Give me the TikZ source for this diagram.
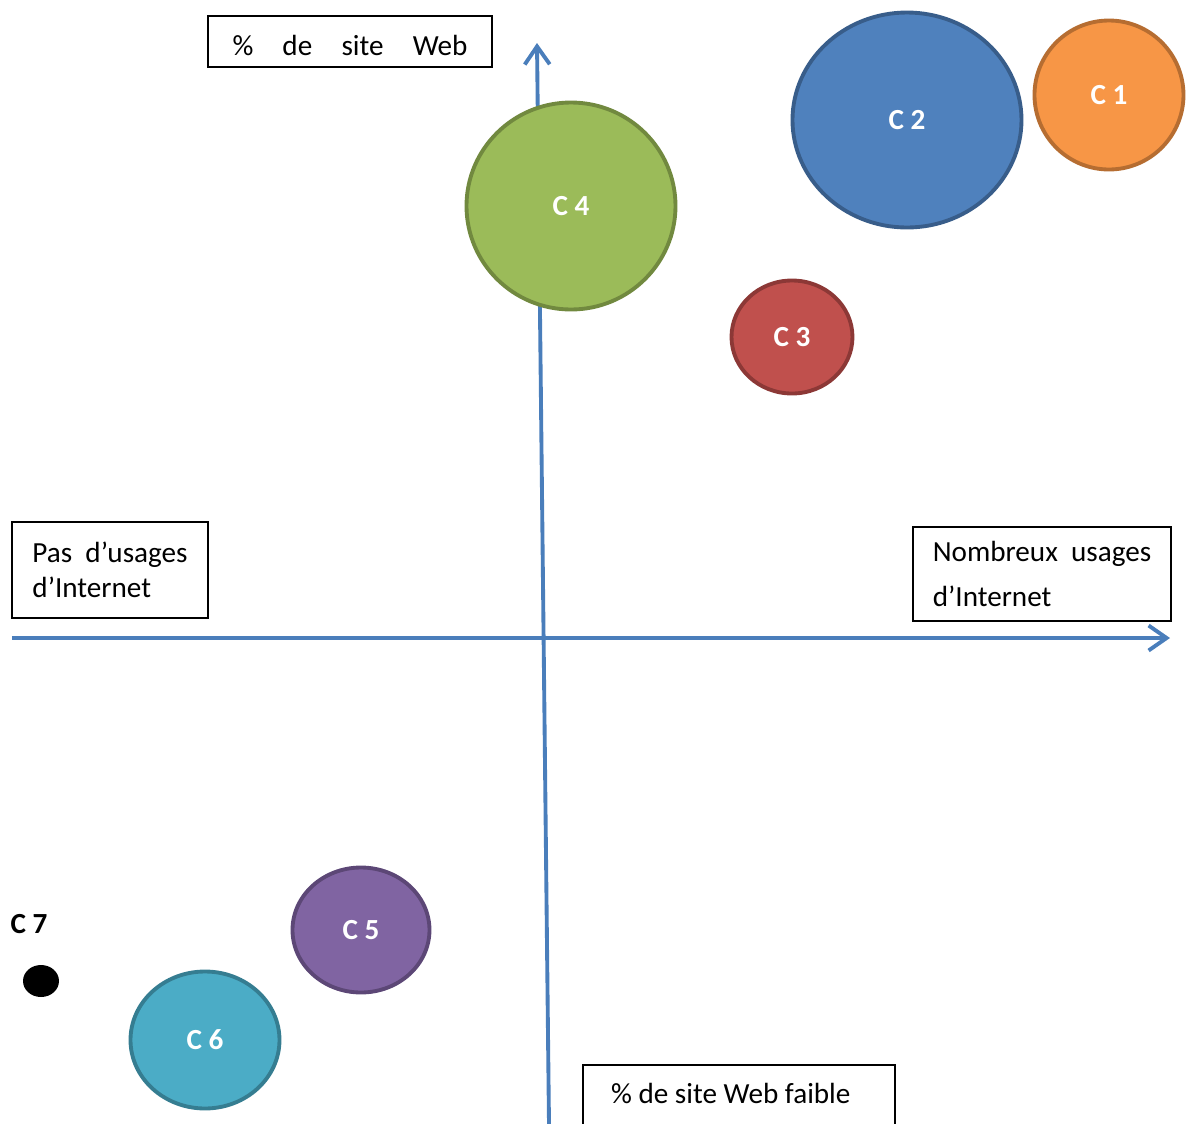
\documentclass[tikz,border=0pt]{standalone}
\usepackage{fontspec}
\setmainfont{Carlito}
\usetikzlibrary{arrows.meta, shapes.geometric}

\definecolor{axisblue}{RGB}{74,126,187}
\definecolor{orangefill}{RGB}{247,150,70}
\definecolor{orangeline}{RGB}{182,109,49}
\definecolor{bluefill}{RGB}{79,129,189}
\definecolor{blueline}{RGB}{56,93,138}
\definecolor{redfill}{RGB}{192,80,77}
\definecolor{redline}{RGB}{140,56,54}
\definecolor{greenfill}{RGB}{155,187,89}
\definecolor{greenline}{RGB}{113,137,63}
\definecolor{purplefill}{RGB}{128,100,162}
\definecolor{purpleline}{RGB}{92,71,118}
\definecolor{aquafill}{RGB}{75,172,198}
\definecolor{aqualine}{RGB}{53,125,145}

\newcommand{\boxfont}{\fontsize{8.3}{10}\selectfont}

\begin{document}
\begin{tikzpicture}[x=0.1mm, y=-0.1mm,
  axis/.style={axisblue, line width=1.1pt, -{Straight Barb[length=1.8mm, width=2.5mm]}},
  labelbox/.style={draw=black, line width=0.6pt, font=\boxfont},
  cluster/.style={ellipse, inner sep=0pt, line width=1.1pt, text=white, font=\bfseries\boxfont}]
\clip (0,0) rectangle (1187,1124);

\coordinate (xleft) at (12,638);
\coordinate (xright) at (1170,638);
\coordinate (ybottom) at (549,1124);
\coordinate (ytop) at (537,43);

\draw[axis] (xleft) -- (xright);
\draw[axis] (ybottom) -- (ytop);

\node[labelbox, minimum width=28.4mm, inner ysep=0pt, text height=3.9mm, text depth=1.2mm] (webbox) at (350,41.5)
  {\makebox[23.5mm]{\%\hfill de\hfill site\hfill Web}};
\node[labelbox, align=left, minimum width=19.6mm, minimum height=9.6mm] (nouse) at (110,570)
  {Pas\ \ d’usages\\ d’Internet};
\node[labelbox, align=left, minimum width=25.8mm, minimum height=9.4mm] (manyuse) at (1042,574)
  {Nombreux\ \ usages\\[2.6pt] d’Internet};
\node[labelbox, anchor=north west, inner xsep=2.8mm, inner ysep=0pt, text height=3.8mm, text depth=4mm] (lowweb) at (582,1064)
  {\makebox[25.6mm][l]{\% de site Web faible}};

\node[cluster, fill=orangefill, draw=orangeline, minimum width=14.9mm, minimum height=14.9mm] (c1) at (1109,95) {C 1};
\node[cluster, fill=bluefill, draw=blueline, minimum width=22.9mm, minimum height=21.5mm] (c2) at (907,120) {C 2};
\node[cluster, fill=redfill, draw=redline, minimum width=12.1mm, minimum height=11.3mm] (c3) at (792,337) {C 3};
\node[cluster, fill=greenfill, draw=greenline, minimum width=20.9mm, minimum height=20.7mm] (c4) at (571,206) {C 4};
\node[cluster, fill=purplefill, draw=purpleline, minimum width=13.7mm, minimum height=12.5mm] (c5) at (361,930) {C 5};
\node[cluster, fill=aquafill, draw=aqualine, minimum width=14.9mm, minimum height=13.7mm] (c6) at (205,1040) {C 6};
\node[ellipse, inner sep=0pt, fill=black, minimum width=3.6mm, minimum height=3.2mm] (c7) at (41,981) {};
\node[font=\bfseries\boxfont] (c7label) at (29,924) {C 7};
\end{tikzpicture}
\end{document}
